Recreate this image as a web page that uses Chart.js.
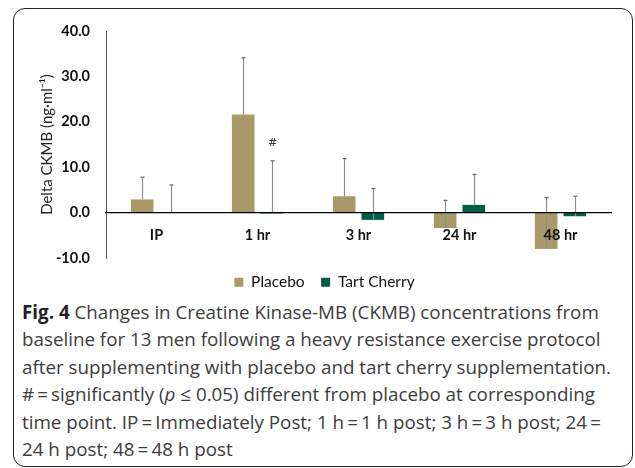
<!DOCTYPE html>
<html>
<head>
<meta charset="utf-8">
<script src="https://cdn.jsdelivr.net/npm/chart.js@4/dist/chart.umd.min.js"></script>
<style>
  html, body { margin: 0; padding: 0; background: #fff; }
  body { width: 635px; height: 468px; position: relative; overflow: hidden; }
  #frame { position: absolute; left: 13px; top: 8px; width: 618px; height: 457px;
           border: 1.5px solid #222; border-radius: 12px; }
  #wrap { position: absolute; left: 0; top: 0; width: 635px; height: 300px; }
  #caption { position: absolute; left: 22px; top: 299px; width: 610px;
             font-family: "Open Sans", sans-serif; font-size: 18.8px; line-height: 27.4px;
             color: #3c3c3c; white-space: nowrap; }
  #caption b { color: #222; }
</style>
</head>
<body>
<div id="frame"></div>
<div id="caption">
<b>Fig. 4</b> Changes in Creatine Kinase-MB (CKMB) concentrations from<br>
baseline for 13 men following a heavy resistance exercise protocol<br>
after supplementing with placebo and tart cherry supplementation.<br>
#&thinsp;=&thinsp;significantly (<i>p</i> ≤ 0.05) different from placebo at corresponding<br>
time point. IP&thinsp;=&thinsp;Immediately Post; 1 h&thinsp;=&thinsp;1 h post; 3 h&thinsp;=&thinsp;3 h post; 24&thinsp;=<br>
24 h post; 48&thinsp;=&thinsp;48 h post
</div>
<div id="wrap"><canvas id="c"></canvas></div>
<script>
const categories = ['IP', '1 hr', '3 hr', '24 hr', '48 hr'];
const placebo = [2.9, 21.6, 3.6, -3.4, -8.0];
const placeboErr = [4.9, 12.5, 8.3, 6.1, 11.3];
const tartCherry = [0.0, -0.2, -1.6, 1.7, -0.8];
const tartCherryErr = [6.1, 11.6, 6.9, 6.7, 4.4];
const significance = ['', '#', '', '', ''];
const yTickValues = [-10, 0, 10, 20, 30, 40];

const errorBars = {
  id: 'errorBars',
  afterDatasetsDraw(chart) {
    const ctx = chart.ctx;
    const ys = chart.scales.y;
    const errs = [placeboErr, tartCherryErr];
    ctx.save();
    chart.data.datasets.forEach((ds, di) => {
      const meta = chart.getDatasetMeta(di);
      meta.data.forEach((bar, i) => {
        const v = ds.data[i];
        const y0 = ys.getPixelForValue(v);
        const y1 = ys.getPixelForValue(v + errs[di][i]);
        const x = Math.round(bar.x) + 0.5;
        ctx.strokeStyle = '#8c8c8c';
        ctx.lineWidth = 1.2;
        ctx.beginPath(); ctx.moveTo(x, y0); ctx.lineTo(x, y1); ctx.stroke();
        ctx.strokeStyle = '#666';
        ctx.beginPath(); ctx.moveTo(x - 2, y1); ctx.lineTo(x + 2, y1); ctx.stroke();
        if (di === 1 && significance[i]) {
          ctx.fillStyle = '#333';
          ctx.font = '11px "DejaVu Sans", sans-serif';
          ctx.textAlign = 'center';
          ctx.textBaseline = 'middle';
          ctx.fillText(significance[i], x, y1 - 18);
        }
      });
    });
    ctx.restore();
  }
};

new Chart(document.getElementById('c'), {
  type: 'bar',
  data: {
    labels: categories,
    datasets: [
      { label: 'Placebo', data: placebo, backgroundColor: '#a99968',
        categoryPercentage: 0.567, barPercentage: 0.79 },
      { label: 'Tart Cherry', data: tartCherry, backgroundColor: '#005e45',
        categoryPercentage: 0.567, barPercentage: 0.79 }
    ]
  },
  plugins: [errorBars],
  options: {
    responsive: true,
    maintainAspectRatio: false,
    animation: false,
    layout: { padding: { top: 31, right: 24, left: 38, bottom: 0 } },
    plugins: {
      tooltip: { enabled: false },
      legend: {
        position: 'bottom',
        labels: {
          boxWidth: 9, boxHeight: 9, padding: 16.5,
          color: '#111',
          font: { family: 'Lato, sans-serif', size: 15.5 }
        }
      }
    },
    scales: {
      x: {
        position: { y: 0 },
        grid: { display: false, drawTicks: false },
        border: { color: '#000', width: 1.2, z: 1 },
        ticks: { padding: 14, color: '#111', z: 1,
                 font: { family: 'Lato, sans-serif', size: 14.5, weight: 'bold' } }
      },
      y: {
        min: -10, max: 40,
        afterFit(s) { s.width = 68; },
        afterBuildTicks(s) { s.ticks = yTickValues.map(v => ({ value: v })); },
        grid: { display: false, drawTicks: false },
        border: { color: '#595959', width: 1 },
        ticks: { padding: 16, color: '#111',
                 font: { family: 'Lato, sans-serif', size: 14.5, weight: 'bold' },
                 callback: v => Number(v).toFixed(1) },
        title: { display: true, text: 'Delta CKMB (ng·ml⁻¹)', color: '#222',
                 padding: { top: 0, bottom: 0 },
                 font: { family: 'Lato, sans-serif', size: 15 } }
      }
    }
  }
});
</script>
</body>
</html>
